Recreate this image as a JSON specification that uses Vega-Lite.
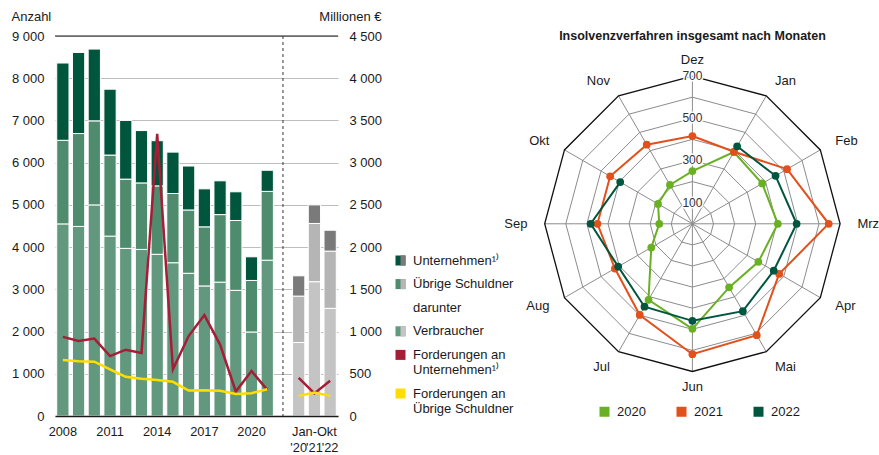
{
  "$schema": "https://vega.github.io/schema/vega-lite/v6.json",
  "padding": {"left": 11, "top": 10, "right": 0, "bottom": 0},
  "background": "white",
  "bounds": "flush",
  "spacing": 182,
  "resolve": {"scale": {"color": "independent"}, "legend": {"color": "independent"}},
  "config": {
    "font": "Liberation Sans",
    "view": {"stroke": null},
    "axis": {"labelFont": "Liberation Sans", "titleFont": "Liberation Sans", "labelFontSize": 13, "titleFontSize": 13, "titleFontWeight": "normal", "labelColor": "#1a1a1a", "titleColor": "#1a1a1a"},
    "legend": {"labelFont": "Liberation Sans", "labelFontSize": 13, "labelColor": "#1a1a1a"}
  },
  "datasets": {
    "bars": [
      {"p":"2008","seg":"Verbraucher","v":4550},{"p":"2008","seg":"Übrige Schuldner","v":1980},{"p":"2008","seg":"Unternehmen¹⁾","v":1830},
      {"p":"2009","seg":"Verbraucher","v":4490},{"p":"2009","seg":"Übrige Schuldner","v":2200},{"p":"2009","seg":"Unternehmen¹⁾","v":1920},
      {"p":"2010","seg":"Verbraucher","v":5000},{"p":"2010","seg":"Übrige Schuldner","v":1990},{"p":"2010","seg":"Unternehmen¹⁾","v":1700},
      {"p":"2011","seg":"Verbraucher","v":4260},{"p":"2011","seg":"Übrige Schuldner","v":1920},{"p":"2011","seg":"Unternehmen¹⁾","v":1560},
      {"p":"2012","seg":"Verbraucher","v":3970},{"p":"2012","seg":"Übrige Schuldner","v":1640},{"p":"2012","seg":"Unternehmen¹⁾","v":1390},
      {"p":"2013","seg":"Verbraucher","v":3945},{"p":"2013","seg":"Übrige Schuldner","v":1575},{"p":"2013","seg":"Unternehmen¹⁾","v":1240},
      {"p":"2014","seg":"Verbraucher","v":3830},{"p":"2014","seg":"Übrige Schuldner","v":1620},{"p":"2014","seg":"Unternehmen¹⁾","v":1070},
      {"p":"2015","seg":"Verbraucher","v":3630},{"p":"2015","seg":"Übrige Schuldner","v":1640},{"p":"2015","seg":"Unternehmen¹⁾","v":980},
      {"p":"2016","seg":"Verbraucher","v":3380},{"p":"2016","seg":"Übrige Schuldner","v":1500},{"p":"2016","seg":"Unternehmen¹⁾","v":1040},
      {"p":"2017","seg":"Verbraucher","v":3080},{"p":"2017","seg":"Übrige Schuldner","v":1400},{"p":"2017","seg":"Unternehmen¹⁾","v":900},
      {"p":"2018","seg":"Verbraucher","v":3170},{"p":"2018","seg":"Übrige Schuldner","v":1600},{"p":"2018","seg":"Unternehmen¹⁾","v":800},
      {"p":"2019","seg":"Verbraucher","v":2975},{"p":"2019","seg":"Übrige Schuldner","v":1655},{"p":"2019","seg":"Unternehmen¹⁾","v":680},
      {"p":"2020","seg":"Verbraucher","v":1990},{"p":"2020","seg":"Übrige Schuldner","v":1220},{"p":"2020","seg":"Unternehmen¹⁾","v":560},
      {"p":"2021","seg":"Verbraucher","v":3690},{"p":"2021","seg":"Übrige Schuldner","v":1630},{"p":"2021","seg":"Unternehmen¹⁾","v":500},
      {"p":"J20","seg":"Verbraucher","v":1740},{"p":"J20","seg":"Übrige Schuldner","v":1100},{"p":"J20","seg":"Unternehmen¹⁾","v":480},
      {"p":"J21","seg":"Verbraucher","v":3180},{"p":"J21","seg":"Übrige Schuldner","v":1380},{"p":"J21","seg":"Unternehmen¹⁾","v":440},
      {"p":"J22","seg":"Verbraucher","v":2550},{"p":"J22","seg":"Übrige Schuldner","v":1355},{"p":"J22","seg":"Unternehmen¹⁾","v":495}
    ],
    "lines": [
      {"p":"2008","s":"Forderungen an Unternehmen¹⁾","g":"a","v":937},
      {"p":"2009","s":"Forderungen an Unternehmen¹⁾","g":"a","v":889},
      {"p":"2010","s":"Forderungen an Unternehmen¹⁾","g":"a","v":917},
      {"p":"2011","s":"Forderungen an Unternehmen¹⁾","g":"a","v":710},
      {"p":"2012","s":"Forderungen an Unternehmen¹⁾","g":"a","v":785},
      {"p":"2013","s":"Forderungen an Unternehmen¹⁾","g":"a","v":745},
      {"p":"2014","s":"Forderungen an Unternehmen¹⁾","g":"a","v":3340},
      {"p":"2015","s":"Forderungen an Unternehmen¹⁾","g":"a","v":552},
      {"p":"2016","s":"Forderungen an Unternehmen¹⁾","g":"a","v":947},
      {"p":"2017","s":"Forderungen an Unternehmen¹⁾","g":"a","v":1195},
      {"p":"2018","s":"Forderungen an Unternehmen¹⁾","g":"a","v":846},
      {"p":"2019","s":"Forderungen an Unternehmen¹⁾","g":"a","v":290},
      {"p":"2020","s":"Forderungen an Unternehmen¹⁾","g":"a","v":532},
      {"p":"2021","s":"Forderungen an Unternehmen¹⁾","g":"a","v":310},
      {"p":"J20","s":"Forderungen an Unternehmen¹⁾","g":"b","v":452},
      {"p":"J21","s":"Forderungen an Unternehmen¹⁾","g":"b","v":268},
      {"p":"J22","s":"Forderungen an Unternehmen¹⁾","g":"b","v":418},
      {"p":"2008","s":"Forderungen an Übrige Schuldner","g":"a","v":663},
      {"p":"2009","s":"Forderungen an Übrige Schuldner","g":"a","v":647},
      {"p":"2010","s":"Forderungen an Übrige Schuldner","g":"a","v":643},
      {"p":"2011","s":"Forderungen an Übrige Schuldner","g":"a","v":552},
      {"p":"2012","s":"Forderungen an Übrige Schuldner","g":"a","v":464},
      {"p":"2013","s":"Forderungen an Übrige Schuldner","g":"a","v":440},
      {"p":"2014","s":"Forderungen an Übrige Schuldner","g":"a","v":425},
      {"p":"2015","s":"Forderungen an Übrige Schuldner","g":"a","v":405},
      {"p":"2016","s":"Forderungen an Übrige Schuldner","g":"a","v":302},
      {"p":"2017","s":"Forderungen an Übrige Schuldner","g":"a","v":306},
      {"p":"2018","s":"Forderungen an Übrige Schuldner","g":"a","v":298},
      {"p":"2019","s":"Forderungen an Übrige Schuldner","g":"a","v":262},
      {"p":"2020","s":"Forderungen an Übrige Schuldner","g":"a","v":270},
      {"p":"2021","s":"Forderungen an Übrige Schuldner","g":"a","v":317},
      {"p":"J20","s":"Forderungen an Übrige Schuldner","g":"b","v":238},
      {"p":"J21","s":"Forderungen an Übrige Schuldner","g":"b","v":278},
      {"p":"J22","s":"Forderungen an Übrige Schuldner","g":"b","v":238}
    ],
    "months": [
      {"mo":"Dez","m":0},{"mo":"Jan","m":1},{"mo":"Feb","m":2},{"mo":"Mrz","m":3},{"mo":"Apr","m":4},{"mo":"Mai","m":5},
      {"mo":"Jun","m":6},{"mo":"Jul","m":7},{"mo":"Aug","m":8},{"mo":"Sep","m":9},{"mo":"Okt","m":10},{"mo":"Nov","m":11}
    ],
    "rings": [
      {"ring":100,"m":[0,1,2,3,4,5,6,7,8,9,10,11,12]},
      {"ring":200,"m":[0,1,2,3,4,5,6,7,8,9,10,11,12]},
      {"ring":300,"m":[0,1,2,3,4,5,6,7,8,9,10,11,12]},
      {"ring":400,"m":[0,1,2,3,4,5,6,7,8,9,10,11,12]},
      {"ring":500,"m":[0,1,2,3,4,5,6,7,8,9,10,11,12]},
      {"ring":600,"m":[0,1,2,3,4,5,6,7,8,9,10,11,12]},
      {"ring":700,"m":[0,1,2,3,4,5,6,7,8,9,10,11,12]}
    ],
    "radar": [
      {"mo":"Dez","m":0,"year":"2020","v":250},{"mo":"Jan","m":1,"year":"2020","v":393},{"mo":"Feb","m":2,"year":"2020","v":382},
      {"mo":"Mrz","m":3,"year":"2020","v":405},{"mo":"Apr","m":4,"year":"2020","v":361},{"mo":"Mai","m":5,"year":"2020","v":348},
      {"mo":"Jun","m":6,"year":"2020","v":498},{"mo":"Jul","m":7,"year":"2020","v":416},{"mo":"Aug","m":8,"year":"2020","v":225},
      {"mo":"Sep","m":9,"year":"2020","v":157},{"mo":"Okt","m":10,"year":"2020","v":188},{"mo":"Nov","m":11,"year":"2020","v":213},
      {"mo":"Dez","m":0,"year":"2021","v":416},{"mo":"Jan","m":1,"year":"2021","v":394},{"mo":"Feb","m":2,"year":"2021","v":518},
      {"mo":"Mrz","m":3,"year":"2021","v":646},{"mo":"Apr","m":4,"year":"2021","v":475},{"mo":"Mai","m":5,"year":"2021","v":610},
      {"mo":"Jun","m":6,"year":"2021","v":618},{"mo":"Jul","m":7,"year":"2021","v":499},{"mo":"Aug","m":8,"year":"2021","v":424},
      {"mo":"Sep","m":9,"year":"2021","v":450},{"mo":"Okt","m":10,"year":"2021","v":450},{"mo":"Nov","m":11,"year":"2021","v":433},
      {"mo":"Jan","m":1,"year":"2022","v":424},{"mo":"Feb","m":2,"year":"2022","v":455},{"mo":"Mrz","m":3,"year":"2022","v":494},
      {"mo":"Apr","m":4,"year":"2022","v":445},{"mo":"Mai","m":5,"year":"2022","v":478},{"mo":"Jun","m":6,"year":"2022","v":460},
      {"mo":"Jul","m":7,"year":"2022","v":454},{"mo":"Aug","m":8,"year":"2022","v":406},{"mo":"Sep","m":9,"year":"2022","v":482},
      {"mo":"Okt","m":10,"year":"2022","v":395}
    ]
  },
  "hconcat": [
    {
      "width": 283,
      "height": 380,
      "layer": [
        {
          "layer": [
            {
              "data": {"name": "bars"},
              "transform": [
                {"filter": "indexof(['J20','J21','J22'], datum.p) < 0"},
                {"calculate": "indexof(['Verbraucher','Übrige Schuldner','Unternehmen¹⁾'], datum.seg)", "as": "so"}
              ],
              "mark": {"type": "bar", "width": {"band": 0.78}, "stroke": "white", "strokeWidth": 1},
              "encoding": {
                "x": {
                  "field": "p", "type": "nominal",
                  "scale": {"domain": ["2008","2009","2010","2011","2012","2013","2014","2015","2016","2017","2018","2019","2020","2021","sep","J20","J21","J22"], "paddingInner": 0, "paddingOuter": 0},
                  "axis": {
                    "title": null, "labelAngle": 0, "ticks": false, "tickSize": 0, "labelPadding": 9, "labelOverlap": false,
                    "domainColor": "#1a1a1a", "domainWidth": 1.5, "labelLineHeight": 16, "zindex": 1, "labelFontSize": 12.8,
                    "labelExpr": "datum.value == 'J20' ? ['', \"'20\"] : datum.value == 'J21' ? ['Jan-Okt', \"'21\"] : datum.value == 'J22' ? ['', \"'22\"] : (indexof(['2008','2011','2014','2017','2020'], datum.value) >= 0 ? datum.value : '')"
                  }
                },
                "y": {
                  "field": "v", "type": "quantitative", "stack": "zero",
                  "scale": {"domain": [0, 9000], "nice": false},
                  "axis": {
                    "title": "Anzahl", "titleAngle": 0, "titleAlign": "left", "titleBaseline": "alphabetic", "titleX": -44, "titleY": -16,
                    "values": [0,1000,2000,3000,4000,5000,6000,7000,8000,9000],
                    "labelExpr": "replace(format(datum.value, ',d'), ',', ' ')",
                    "domain": false, "ticks": false, "labelPadding": 11,
                    "grid": true, "gridWidth": 1.2, "gridColor": "#bdbdbd"
                  }
                },
                "color": {
                  "field": "seg", "type": "nominal",
                  "scale": {
                    "domain": ["Unternehmen¹⁾","Übrige Schuldner","darunter","Verbraucher","Forderungen an Unternehmen¹⁾","Forderungen an Übrige Schuldner"],
                    "range": ["#00563d","#4f8c6e","transparent","#62997e","#a51d36","#ffdd00"]
                  },
                  "legend": {
                    "orient": "none", "direction": "vertical", "legendX": 339, "legendY": 218, "title": null,
                    "symbolType": "square", "symbolSize": 100, "symbolStrokeWidth": 0,
                    "labelFontSize": 13, "rowPadding": 9.6, "labelOffset": 6, "labelLimit": 200, "padding": 0,
                    "labelExpr": "datum.label == 'Forderungen an Unternehmen¹⁾' ? ['Forderungen an', 'Unternehmen¹⁾'] : datum.label == 'Forderungen an Übrige Schuldner' ? ['Forderungen an', 'Übrige Schuldner'] : datum.label"
                  }
                },
                "order": {"field": "so", "type": "quantitative"}
              }
            },
            {
              "data": {"name": "bars"},
              "transform": [
                {"filter": "indexof(['J20','J21','J22'], datum.p) >= 0"},
                {"calculate": "indexof(['Verbraucher','Übrige Schuldner','Unternehmen¹⁾'], datum.seg)", "as": "so"}
              ],
              "mark": {"type": "bar", "width": {"band": 0.78}, "stroke": "white", "strokeWidth": 1},
              "encoding": {
                "x": {"field": "p", "type": "nominal"},
                "y": {"field": "v", "type": "quantitative", "stack": "zero"},
                "fill": {
                  "field": "seg", "type": "nominal",
                  "scale": {"domain": ["Unternehmen¹⁾","Übrige Schuldner","darunter","Verbraucher"], "range": ["#7a7a7a","#b5b5b5","transparent","#c4c4c4"]},
                  "legend": {
                    "orient": "none", "direction": "vertical", "legendX": 339, "legendY": 218, "title": null,
                    "symbolType": "M0,-1H1V1H0Z", "symbolSize": 100, "symbolStrokeWidth": 0,
                    "labelFontSize": 13, "rowPadding": 9.6, "labelOffset": 6, "padding": 0,
                    "labelExpr": "' '"
                  }
                },
                "order": {"field": "so", "type": "quantitative"}
              }
            },
            {
              "data": {"values": [{"t": 9000}]},
              "mark": {"type": "rule", "color": "#1a1a1a", "strokeWidth": 1.2},
              "encoding": {"y": {"field": "t", "type": "quantitative"}}
            },
            {
              "data": {"values": [{"t": "sep"}]},
              "mark": {"type": "rule", "strokeDash": [3, 3], "color": "#333333", "strokeWidth": 1},
              "encoding": {"x": {"field": "t", "type": "nominal"}}
            }
          ]
        },
        {
          "data": {"name": "lines"},
          "mark": {"type": "line", "strokeWidth": 2.5},
          "encoding": {
            "x": {"field": "p", "type": "nominal"},
            "y": {
              "field": "v", "type": "quantitative",
              "scale": {"domain": [0, 4500], "nice": false},
              "axis": {
                "orient": "right", "title": "Millionen €", "titleAngle": 0, "titleAlign": "right", "titleBaseline": "alphabetic", "titleX": 43, "titleY": -16,
                "values": [0,500,1000,1500,2000,2500,3000,3500,4000,4500],
                "labelExpr": "replace(format(datum.value, ',d'), ',', ' ')",
                "labelAlign": "left",
                "domain": false, "ticks": false, "labelPadding": 11, "grid": false
              }
            },
            "color": {"field": "s", "type": "nominal"},
            "detail": {"field": "g", "type": "nominal"}
          }
        }
      ],
      "resolve": {"scale": {"y": "independent"}}
    },
    {
      "width": 345,
      "height": 380,
      "title": {"text": "Insolvenzverfahren insgesamt nach Monaten", "fontSize": 12.5, "fontWeight": "bold", "font": "Liberation Sans", "baseline": "alphabetic", "offset": -4, "dy": 12, "anchor": "middle", "frame": "group", "color": "#1a1a1a"},
      "layer": [
        {
          "data": {"name": "rings"},
          "transform": [
            {"filter": "datum.ring < 700"},
            {"flatten": ["m"]},
            {"calculate": "datum.ring * sin(datum.m * PI / 6)", "as": "px"},
            {"calculate": "datum.ring * cos(datum.m * PI / 6)", "as": "py"}
          ],
          "mark": {"type": "line", "color": "#8c8c8c", "strokeWidth": 1},
          "encoding": {
            "x": {"field": "px", "type": "quantitative", "scale": {"domain": [-817, 818], "nice": false, "zero": false}, "axis": null},
            "y": {"field": "py", "type": "quantitative", "scale": {"domain": [-911, 890], "nice": false, "zero": false}, "axis": null},
            "detail": {"field": "ring", "type": "nominal"},
            "order": {"field": "m", "type": "quantitative"}
          }
        },
        {
          "data": {"name": "months"},
          "transform": [
            {"calculate": "700 * sin(datum.m * PI / 6)", "as": "px"},
            {"calculate": "700 * cos(datum.m * PI / 6)", "as": "py"},
            {"calculate": "0", "as": "zx"}
          ],
          "mark": {"type": "rule", "color": "#8c8c8c", "strokeWidth": 1},
          "encoding": {
            "x": {"field": "zx", "type": "quantitative"},
            "y": {"field": "zx", "type": "quantitative"},
            "x2": {"field": "px"},
            "y2": {"field": "py"}
          }
        },
        {
          "data": {"name": "rings"},
          "transform": [
            {"filter": "datum.ring == 700"},
            {"flatten": ["m"]},
            {"calculate": "datum.ring * sin(datum.m * PI / 6)", "as": "px"},
            {"calculate": "datum.ring * cos(datum.m * PI / 6)", "as": "py"}
          ],
          "mark": {"type": "line", "color": "#111111", "strokeWidth": 1.3},
          "encoding": {
            "x": {"field": "px", "type": "quantitative"},
            "y": {"field": "py", "type": "quantitative"},
            "detail": {"field": "ring", "type": "nominal"},
            "order": {"field": "m", "type": "quantitative"}
          }
        },
        {
          "data": {"name": "rings"},
          "transform": [{"filter": "indexof([100,300,500,700], datum.ring) >= 0"}, {"calculate": "0", "as": "zx"}],
          "mark": {"type": "text", "fontSize": 12, "align": "center", "baseline": "middle", "fill": "white", "stroke": "white", "strokeWidth": 3},
          "encoding": {
            "x": {"field": "zx", "type": "quantitative"},
            "y": {"field": "ring", "type": "quantitative"},
            "text": {"field": "ring", "type": "quantitative"}
          }
        },
        {
          "data": {"name": "rings"},
          "transform": [{"filter": "indexof([100,300,500,700], datum.ring) >= 0"}, {"calculate": "0", "as": "zx"}],
          "mark": {"type": "text", "fontSize": 12, "align": "center", "baseline": "middle", "color": "#333333"},
          "encoding": {
            "x": {"field": "zx", "type": "quantitative"},
            "y": {"field": "ring", "type": "quantitative"},
            "text": {"field": "ring", "type": "quantitative"}
          }
        },
        {
          "data": {"name": "months"},
          "transform": [
            {"filter": "datum.m >= 1 && datum.m <= 5"},
            {"calculate": "782 * sin(datum.m * PI / 6)", "as": "px"},
            {"calculate": "782 * cos(datum.m * PI / 6)", "as": "py"}
          ],
          "mark": {"type": "text", "fontSize": 13, "align": "left", "baseline": "middle", "color": "#1a1a1a"},
          "encoding": {"x": {"field": "px", "type": "quantitative"}, "y": {"field": "py", "type": "quantitative"}, "text": {"field": "mo", "type": "nominal"}}
        },
        {
          "data": {"name": "months"},
          "transform": [
            {"filter": "datum.m >= 7"},
            {"calculate": "782 * sin(datum.m * PI / 6)", "as": "px"},
            {"calculate": "782 * cos(datum.m * PI / 6)", "as": "py"}
          ],
          "mark": {"type": "text", "fontSize": 13, "align": "right", "baseline": "middle", "color": "#1a1a1a"},
          "encoding": {"x": {"field": "px", "type": "quantitative"}, "y": {"field": "py", "type": "quantitative"}, "text": {"field": "mo", "type": "nominal"}}
        },
        {
          "data": {"name": "months"},
          "transform": [
            {"filter": "datum.m == 0 || datum.m == 6"},
            {"calculate": "775 * sin(datum.m * PI / 6)", "as": "px"},
            {"calculate": "775 * cos(datum.m * PI / 6)", "as": "py"}
          ],
          "mark": {"type": "text", "fontSize": 13, "align": "center", "baseline": "middle", "color": "#1a1a1a"},
          "encoding": {"x": {"field": "px", "type": "quantitative"}, "y": {"field": "py", "type": "quantitative"}, "text": {"field": "mo", "type": "nominal"}}
        },
        {
          "data": {"name": "radar"},
          "transform": [
            {"filter": "datum.year != '2022'"},
            {"calculate": "datum.v * sin(datum.m * PI / 6)", "as": "px"},
            {"calculate": "datum.v * cos(datum.m * PI / 6)", "as": "py"}
          ],
          "mark": {"type": "line", "interpolate": "linear-closed", "strokeWidth": 2},
          "encoding": {
            "x": {"field": "px", "type": "quantitative"},
            "y": {"field": "py", "type": "quantitative"},
            "order": {"field": "m", "type": "quantitative"},
            "color": {
              "field": "year", "type": "nominal",
              "scale": {"domain": ["2020","2021","2022"], "range": ["#6ab023","#e2501b","#00563f"]},
              "legend": {
                "orient": "none", "legendX": 78, "legendY": 369, "direction": "horizontal", "title": null,
                "symbolType": "square", "symbolSize": 100, "symbolStrokeWidth": 0,
                "labelFontSize": 13, "labelOffset": 6, "columnPadding": 29, "padding": 0
              }
            }
          }
        },
        {
          "data": {"name": "radar"},
          "transform": [
            {"filter": "datum.year == '2022'"},
            {"calculate": "datum.v * sin(datum.m * PI / 6)", "as": "px"},
            {"calculate": "datum.v * cos(datum.m * PI / 6)", "as": "py"}
          ],
          "mark": {"type": "line", "strokeWidth": 2},
          "encoding": {
            "x": {"field": "px", "type": "quantitative"},
            "y": {"field": "py", "type": "quantitative"},
            "order": {"field": "m", "type": "quantitative"},
            "color": {"field": "year", "type": "nominal"}
          }
        },
        {
          "data": {"name": "radar"},
          "transform": [
            {"calculate": "datum.v * sin(datum.m * PI / 6)", "as": "px"},
            {"calculate": "datum.v * cos(datum.m * PI / 6)", "as": "py"}
          ],
          "mark": {"type": "point", "filled": true, "size": 60, "opacity": 1},
          "encoding": {
            "x": {"field": "px", "type": "quantitative"},
            "y": {"field": "py", "type": "quantitative"},
            "color": {"field": "year", "type": "nominal"}
          }
        }
      ]
    }
  ]
}
